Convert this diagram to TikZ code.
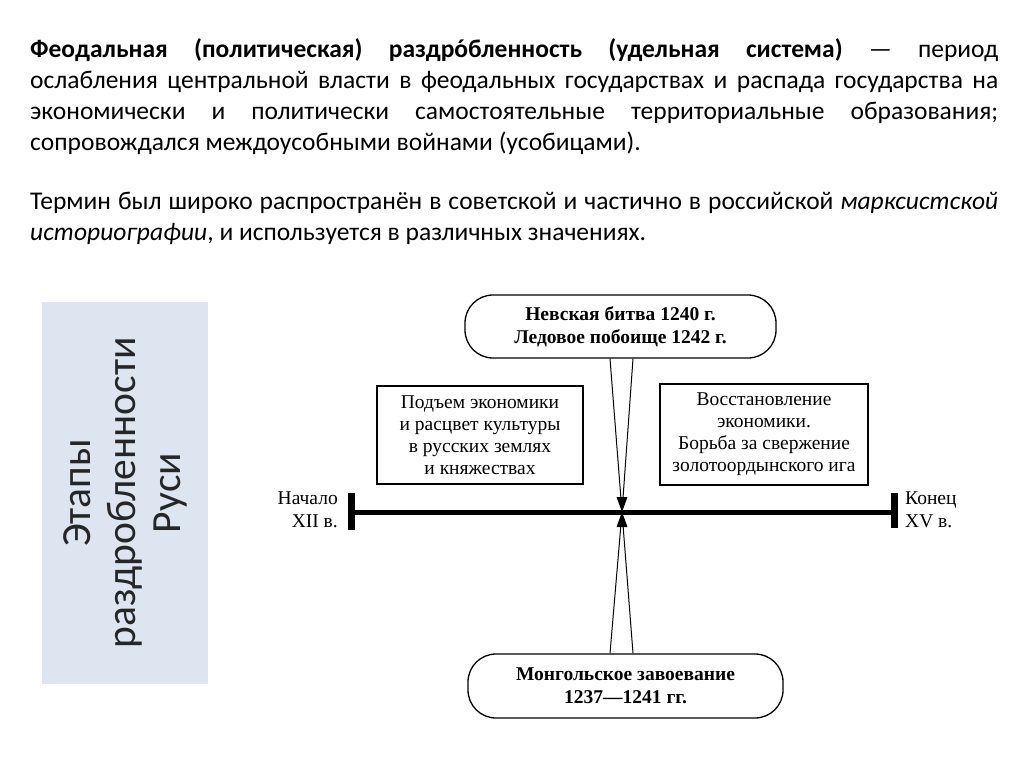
\documentclass[tikz,border=0pt]{standalone}
\usepackage{fontspec}
\setmainfont{Carlito}
\newfontfamily\serifd{Liberation Serif}
\usetikzlibrary{calc}
\definecolor{boxblue}{RGB}{221,229,241}
\begin{document}
\begin{tikzpicture}[x=1pt,y=-1pt,
  paratext/.style={anchor=north west,text width=968pt,align=justify,inner sep=0pt,font=\fontsize{25.5}{31}\selectfont},
  evbox/.style={draw,line width=1.3pt,rounded corners=28pt,inner sep=0pt,align=center,font=\serifd\bfseries\fontsize{19.5}{23}\selectfont},
  periodbox/.style={draw,line width=1.2pt,inner sep=0pt,align=center,font=\serifd\fontsize{19.5}{22}\selectfont},
  endlabel/.style={inner sep=0pt,font=\serifd\fontsize{19.5}{23}\selectfont},
  endbar/.style={fill=black,inner sep=0pt,minimum width=7pt,minimum height=37pt},
  timeline/.style={line width=5pt},
  conv/.style={line width=1pt},
  tip/.style={fill=black}]
\useasboundingbox[fill=white] (0,0) rectangle (1024,767);

\node[paratext] (p1) at (30,38) {\textbf{Феодальная (политическая) раздр\accent"B4 обленность (удельная система)} — период\linebreak ослабления центральной власти в феодальных государствах и распада государства на\linebreak экономически и политически самостоятельные территориальные образования;\linebreak сопровождался междоусобными войнами (усобицами).};

\node[paratext] (p2) at (30,192) {Термин был широко распространён в советской и частично в российской \textit{марксистской}\linebreak \textit{историографии}, и используется в различных значениях.};

\node[fill=boxblue,inner sep=0pt,minimum width=166pt,minimum height=382pt] (stages) at (125,493) {};
\node[rotate=90,align=center,inner sep=0pt,font=\fontsize{41.5}{45}\selectfont,text=black!85] (stagestext) at (stages.center) {Этапы\\раздробленности\\Руси};

\node[evbox,minimum width=311pt,minimum height=63pt] (nev) at (620.5,326.5) {Невская битва 1240 г.\\Ледовое побоище 1242 г.};
\node[periodbox,minimum width=206pt,minimum height=98pt] (rise) at (480,435) {Подъем экономики\\и расцвет культуры\\в русских землях\\и княжествах};
\node[periodbox,minimum width=208pt,minimum height=101pt] (restore) at (764,434.5) {Восстановление\\экономики.\\Борьба за свержение\\золотоордынского ига};
\node[evbox,minimum width=315pt,minimum height=64pt] (mong) at (625.5,686) {Монгольское завоевание\\1237—1241 гг.};

\node[endbar] (barL) at (351,511.5) {};
\node[endbar,minimum height=35pt] (barR) at (894,510) {};
\draw[timeline] (barL.center |- 0,512) -- (barR.center |- 0,512);

\node[endlabel,anchor=east,align=right] (start) at (338,510) {Начало\\XII в.};
\node[endlabel,anchor=west,align=left] (finish) at (905,510) {Конец\\XV в.};

\coordinate (apex) at (622,512);
\coordinate (n1) at ($(nev.south)+(-10.5,0)$);
\coordinate (n2) at ($(nev.south)+(12.5,0)$);
\coordinate (m1) at ($(mong.north)+(-15.5,0)$);
\coordinate (m2) at ($(mong.north)+(7.5,0)$);
\draw[conv] (n1) -- (apex) -- (n2);
\draw[conv] (m1) -- (apex) -- (m2);
\fill[tip] (apex) -- ++(-5.5,-15) -- ++(11,0) -- cycle;
\fill[tip] (apex) -- ++(-5.5,15) -- ++(11,0) -- cycle;
\end{tikzpicture}
\end{document}
